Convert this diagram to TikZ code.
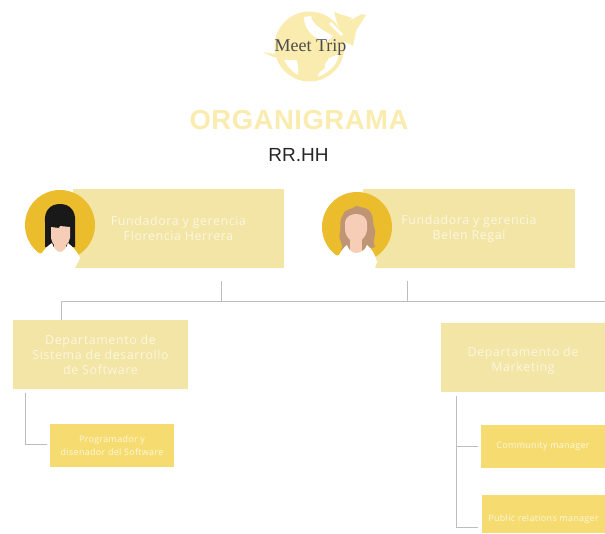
\documentclass[tikz,border=0pt]{standalone}
\usepackage{fontspec}
\setmainfont{Open Sans}
\newfontfamily\logofont{Liberation Serif}
\newfontfamily\titlefont{Liberation Sans}
\usetikzlibrary{positioning}
\definecolor{boxpale}{HTML}{F3E5A6}
\definecolor{boxgold}{HTML}{F6DC70}
\definecolor{logogold}{HTML}{FAEBAE}
\definecolor{avatargold}{HTML}{EBBC2B}
\definecolor{skin}{HTML}{F6CDB6}
\definecolor{hairbrown}{HTML}{BF9574}
\definecolor{linegrey}{HTML}{BDBDBD}
\definecolor{labelwhite}{HTML}{FCF7DF}

\begin{document}
\begin{tikzpicture}[
    x=1pt, y=-1pt,
    bigbox/.style={fill=boxpale, inner sep=0pt, text=labelwhite, align=center, font=\fontsize{12.4}{15}\selectfont\addfontfeatures{LetterSpace=5}},
    smallbox/.style={fill=boxgold, inner sep=0pt, text=labelwhite, align=center, font=\fontsize{8.9}{12.5}\selectfont\addfontfeatures{LetterSpace=4}},
    link/.style={draw=linegrey, line width=0.9pt}
]
\useasboundingbox (0,0) rectangle (605,533);

% Logo
\fill[logogold] (309.5,46.5) circle (35);
\fill[white] (304,17) -- (311,16) .. controls (312,24) and (322,30) .. (333,36) -- (330,43) .. controls (316,40) and (304,32) .. (304,17) -- cycle;
\fill[white] (284,60) -- (296,58) .. controls (298,64) and (299,70) .. (298,75) .. controls (292,72) and (287,66) .. (284,60) -- cycle;
\fill[white] (329,58) -- (339,54) .. controls (338,64) and (330,72) .. (318,77) .. controls (316,74) and (322,71) .. (325,68) .. controls (323,63) and (328,62) .. (329,58) -- cycle;
\fill[logogold] (263,52) .. controls (290,58) and (320,52) .. (340,30) -- (348,38) .. controls (325,62) and (285,66) .. (263,52) -- cycle;
\fill[logogold] (336,28) -- (362,14) -- (366,15) -- (350,40) -- (344,40) -- cycle;
\fill[logogold] (334,12) -- (352,18) -- (345,27) -- (338,26) -- cycle;
\fill[logogold] (345,32) -- (357,26) -- (353,46) -- (345,42) -- cycle;
\fill[white] (331,22) -- (343,34) -- (341,36) -- (329,24) -- cycle;

% Titles
\node[font=\logofont\fontsize{18}{20}\selectfont, text=black!70] (logoname) at (310.5,47) {Meet Trip};
\node[font=\titlefont\bfseries\fontsize{27.5}{30}\selectfont\addfontfeatures{LetterSpace=1.8}, text=logogold] (title) at (299,120) {ORGANIGRAMA};
\node[font=\titlefont\fontsize{19}{22}\selectfont, text=black!85] (subtitle) at (298.5,155) {RR.HH};

% Boxes
\node[bigbox, minimum width=211, minimum height=79] (founderone) at (178.5,228.5) {Fundadora y gerencia\\Florencia Herrera};
\node[bigbox, minimum width=212, minimum height=79] (foundertwo) at (469,228.5) {Fundadora y gerencia\\Belen Regal};
\node[bigbox, minimum width=175, minimum height=69] (deptsoft) at (100.5,354.5) {Departamento de\\Sistema de desarrollo\\de Software};
\node[bigbox, minimum width=164, minimum height=69] (deptmark) at (523,357.5) {\rule{0pt}{15pt}Departamento de\\Marketing};
\node[smallbox, minimum width=124, minimum height=43] (programmer) at (112,445.5) {Programador y\\disenador del Software};
\node[smallbox, minimum width=124, minimum height=43] (community) at (543,446.5) {Community manager};
\node[smallbox, minimum width=123, minimum height=38, text height=18pt] (public) at (543.5,514) {Public relations manager};

% Avatar 1
\fill[avatargold] (60,225) circle (35);
\fill[black!90] (45,247) -- (45,222) .. controls (44,211) and (50,204) .. (60,204) .. controls (70,204) and (76,211) .. (75,222) -- (75,247) -- cycle;
\fill[skin] (54,240) rectangle (66,254);
\fill[skin] (51,227) -- (59,228) -- (60,226) -- (70,227) -- (70,238) .. controls (69,244) and (64,248) .. (60,248) .. controls (56,248) and (52,244) .. (51,238) -- cycle;
\fill[white] (38,254) -- (42,253) .. controls (45,248) and (49,245) .. (52,243) .. controls (54,249) and (57,252) .. (60,252) .. controls (63,252) and (66,249) .. (68,243) .. controls (73,247) and (78,252) .. (80,258) -- (75,268) -- (38,268) -- cycle;

% Avatar 2
\fill[avatargold] (357,227) circle (35);
\fill[hairbrown] (341,250) .. controls (345,244) and (337,240) .. (340,232) .. controls (341,226) and (339,220) .. (343,215) .. controls (345,208) and (352,210) .. (356,206) .. controls (362,208) and (368,207) .. (371,213) .. controls (374,218) and (372,224) .. (375,230) .. controls (376,236) and (372,240) .. (375,247) -- (365,250) -- cycle;
\fill[skin] (350,236) rectangle (362,256);
\fill[skin] (345,222) .. controls (346,216) and (352,214) .. (356,214) .. controls (362,214) and (367,217) .. (367,224) -- (367,230) .. controls (366,238) and (360,242) .. (356,242) .. controls (351,242) and (346,238) .. (345,230) -- cycle;
\fill[white] (335,256) -- (339,255) .. controls (342,250) and (344,247) .. (347,245) .. controls (349,251) and (353,253) .. (356,253) .. controls (361,253) and (365,250) .. (367,245) .. controls (372,249) and (376,256) .. (377,262) -- (375,268) -- (335,268) -- cycle;

% Links
\coordinate (busleft) at (61,301);
\coordinate (busright) at (605,301);
\coordinate (tapone) at (221,281);
\coordinate (taptwo) at (407,281);
\coordinate (softstart) at (25,393);
\coordinate (softend) at (47,444);
\coordinate (markstart) at (456,396);
\coordinate (markmid) at (478,446);
\coordinate (markend) at (478,527);
\draw[link] (deptsoft.north -| busleft) -- (busleft) -- (busright);
\draw[link] (tapone) -- (tapone |- busleft);
\draw[link] (taptwo) -- (taptwo |- busleft);
\draw[link] (softstart) |- (softend);
\draw[link] (markstart) |- (markend);
\draw[link] (markstart |- markmid) -- (markmid);

\end{tikzpicture}
\end{document}
